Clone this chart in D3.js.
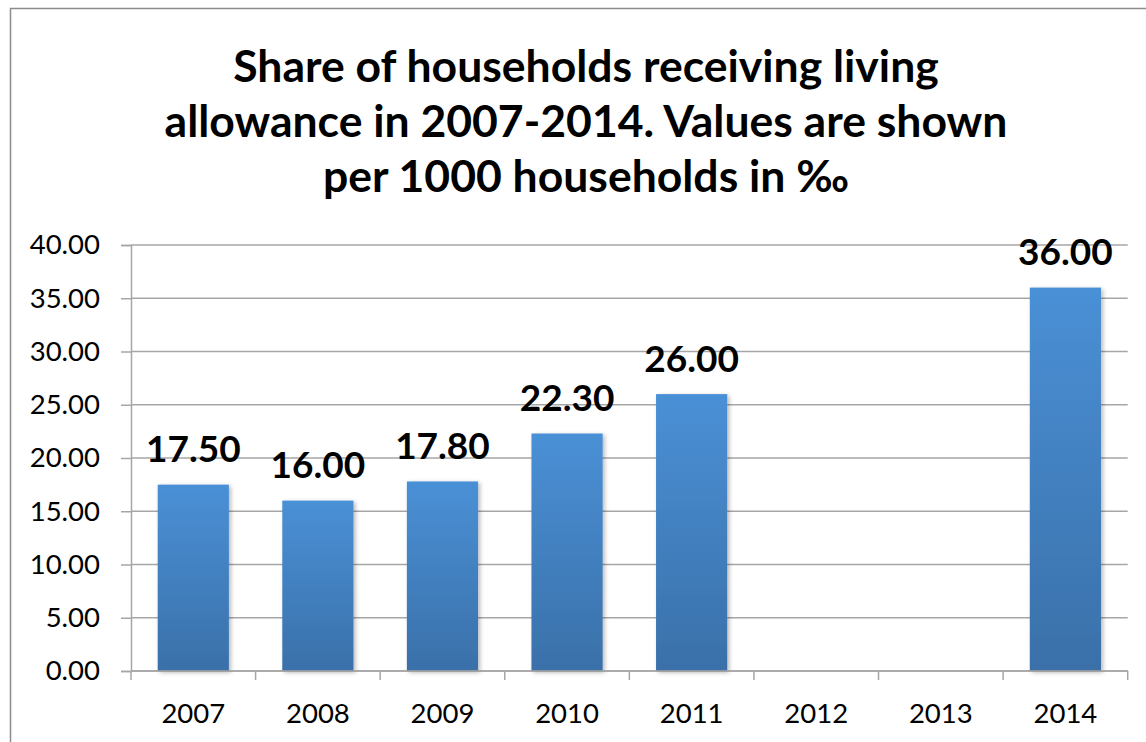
<!DOCTYPE html>
<html>
<head>
<meta charset="utf-8">
<script src="https://cdn.jsdelivr.net/npm/d3@7"></script>
<style>
  html, body { margin: 0; padding: 0; background: #fff; }
  svg { display: block; }
</style>
</head>
<body>
<svg id="chart" width="1146" height="742"></svg>
<script>
const titleLines = [
  "Share of households receiving living",
  "allowance in 2007-2014. Values are shown",
  "per 1000 households in \u2030"
];
const years = ["2007", "2008", "2009", "2010", "2011", "2012", "2013", "2014"];
const values = [17.5, 16.0, 17.8, 22.3, 26.0, null, null, 36.0];
const yTicks = [0, 5, 10, 15, 20, 25, 30, 35, 40];

const svg = d3.select("#chart");
const W = 1146, H = 742;
const plot = { left: 131, right: 1127.7, top: 245, bottom: 671 };

const defs = svg.append("defs");
const grad = defs.append("linearGradient").attr("id", "barGrad")
  .attr("x1", 0).attr("y1", 0).attr("x2", 0).attr("y2", 1);
grad.append("stop").attr("offset", "0%").attr("stop-color", "#4a90d6");
grad.append("stop").attr("offset", "100%").attr("stop-color", "#3a70a9");
const shadow = defs.append("filter").attr("id", "shadow")
  .attr("x", "-20%").attr("y", "-20%").attr("width", "140%").attr("height", "140%");
shadow.append("feDropShadow").attr("dx", 2).attr("dy", 1.5).attr("stdDeviation", 2)
  .attr("flood-color", "#000").attr("flood-opacity", 0.28);

svg.append("rect").attr("width", W).attr("height", H).attr("fill", "#fff");
// outer chart border (top and left visible)
svg.append("rect").attr("x", 10.5).attr("y", 8.5).attr("width", 1300).attr("height", 900)
  .attr("fill", "none").attr("stroke", "#8c8c8c").attr("stroke-width", 1.5);

// title
const title = svg.append("text")
  .attr("text-anchor", "middle")
  .attr("font-family", "Lato, 'Open Sans', sans-serif")
  .attr("font-weight", "bold").attr("font-size", 44.5).attr("fill", "#000");
titleLines.forEach((t, i) => {
  title.append("tspan").attr("x", 586).attr("y", 82 + i * 55).text(t);
});

const x = d3.scaleBand().domain(years).range([plot.left, plot.right]).paddingInner(0).paddingOuter(0);
const y = d3.scaleLinear().domain([0, 40]).range([plot.bottom, plot.top]);
const barW = x.bandwidth() / 1.75;

// gridlines
svg.append("g").selectAll("line").data(yTicks).join("line")
  .attr("x1", plot.left).attr("x2", plot.right)
  .attr("y1", d => y(d)).attr("y2", d => y(d))
  .attr("stroke", "#a6a6a6").attr("stroke-width", 1.5);

// y axis
const yAxis = svg.append("g").attr("transform", `translate(${plot.left},0)`)
  .call(d3.axisLeft(y).tickValues(yTicks).tickSize(10).tickPadding(21).tickFormat(d3.format(".2f")));
yAxis.select(".domain").attr("stroke", "#a6a6a6").attr("stroke-width", 1.5);
yAxis.selectAll(".tick line").attr("stroke", "#a6a6a6").attr("stroke-width", 1.5);
yAxis.selectAll("text").attr("font-family", "Lato, 'Open Sans', sans-serif")
  .attr("font-size", 27.5).attr("fill", "#000");

// bars
svg.append("g").selectAll("rect").data(years.map((yr, i) => ({ yr, v: values[i] })).filter(d => d.v != null))
  .join("rect")
  .attr("x", d => x(d.yr) + (x.bandwidth() - barW) / 2)
  .attr("y", d => y(d.v))
  .attr("width", barW)
  .attr("height", d => y(0) - y(d.v))
  .attr("fill", "url(#barGrad)")
  .attr("filter", "url(#shadow)");

// x axis
const xAxisG = svg.append("g").attr("transform", `translate(0,${plot.bottom})`);
xAxisG.append("line").attr("x1", plot.left).attr("x2", plot.right)
  .attr("stroke", "#a6a6a6").attr("stroke-width", 1.5);
const bounds = years.map(d => x(d)).concat([plot.right]);
xAxisG.selectAll("line.bt").data(bounds).join("line").attr("class", "bt")
  .attr("x1", d => d).attr("x2", d => d).attr("y1", 0).attr("y2", 9)
  .attr("stroke", "#a6a6a6").attr("stroke-width", 1.5);
const xAx = svg.append("g").attr("transform", `translate(0,${plot.bottom})`)
  .call(d3.axisBottom(x).tickSize(0).tickPadding(0));
xAx.select(".domain").remove();
xAx.selectAll("text").attr("font-family", "Lato, 'Open Sans', sans-serif")
  .attr("font-size", 27.5).attr("fill", "#000").attr("dy", null).attr("y", 52);

// data labels
svg.append("g").selectAll("text").data(years.map((yr, i) => ({ yr, v: values[i] })).filter(d => d.v != null))
  .join("text")
  .attr("x", d => x(d.yr) + x.bandwidth() / 2)
  .attr("y", d => y(d.v) - 22.6)
  .attr("text-anchor", "middle")
  .attr("font-family", "Lato, 'Open Sans', sans-serif")
  .attr("font-weight", "bold").attr("font-size", 37).attr("fill", "#000")
  .text(d => d3.format(".2f")(d.v));
</script>
</body>
</html>
